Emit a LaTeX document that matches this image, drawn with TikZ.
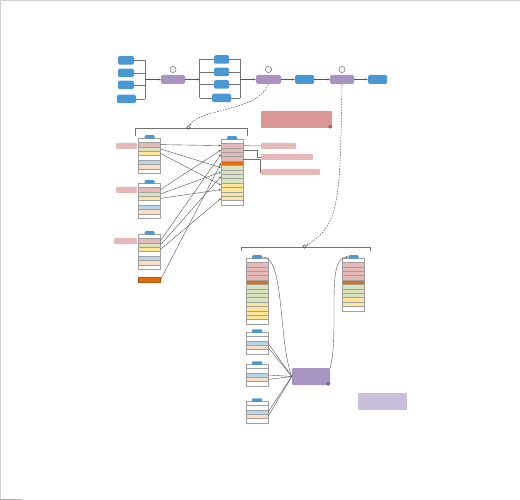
\documentclass[tikz,border=0pt]{standalone}
\usepackage{tikz}
\usetikzlibrary{arrows.meta,calc,positioning}

% Colors
\definecolor{boxblue}{HTML}{4A98D3}
\definecolor{boxpurple}{HTML}{A794C3}
\definecolor{lightpurple}{HTML}{C9BDDC}
\definecolor{bigred}{HTML}{DB9594}
\definecolor{labelpink}{HTML}{E7B8B8}
\definecolor{rowred}{HTML}{E6B9B8}
\definecolor{rowgreen}{HTML}{D7E4BD}
\definecolor{rowyellow}{HTML}{FFE597}
\definecolor{rowblue}{HTML}{B8D8EA}
\definecolor{rowpeach}{HTML}{FBDCC4}
\definecolor{roworange}{HTML}{E46C0A}
\definecolor{cellline}{HTML}{A0A0A0}
\definecolor{linkgray}{HTML}{555555}

% a table: name, x center, top y, row colours
\newcommand{\dbtable}[4]{%
  \foreach \c [count=\i from 0] in {#4}
    \node[cell,fill=\c] (#1-\i) at (#2,{#3+4.4*\i+2.2}) {};
  \node[tab box] (#1-tab) at (#2,{#3-1}) {};
}

\begin{document}
\begin{tikzpicture}[x=1pt,y=-1pt]
  % Styles
  \tikzstyle{blue box}=[fill=boxblue,rounded corners=1.5pt,minimum width=16pt,minimum height=8.5pt,inner sep=0pt]
  \tikzstyle{purple box}=[fill=boxpurple,rounded corners=1.5pt,minimum width=24pt,minimum height=9pt,inner sep=0pt]
  \tikzstyle{cell}=[draw=cellline,line width=0.4pt,minimum width=22pt,minimum height=4.4pt,inner sep=0pt,outer sep=0pt]
  \tikzstyle{tab box}=[fill=boxblue,rounded corners=1pt,minimum width=10pt,minimum height=3.5pt,inner sep=0pt]
  \tikzstyle{pink label}=[fill=labelpink,rounded corners=1pt,minimum height=6pt,inner sep=0pt]
  \tikzstyle{ring}=[circle,draw=gray!80!black,line width=0.5pt,minimum size=6.2pt,inner sep=0pt]
  \tikzstyle{small ring}=[circle,draw=gray!60!black,line width=0.5pt,minimum size=3.5pt,inner sep=0pt]
  \tikzstyle{bracket line}=[draw=gray!90!black,line width=0.5pt]
  \tikzstyle{link}=[draw=linkgray,line width=0.4pt,-{Stealth[length=2.4pt,width=2pt]}]
  \tikzstyle{dash link}=[link,line width=0.5pt,dash pattern=on 1.6pt off 1.2pt]

  \useasboundingbox (0,0) rectangle (520,500);
  \draw[gray!35] (0,500) -- (0,0) -- (520,0);
  \draw[gray!60] (0,499.5) -- (22,499.5);

  % Top flow
  \node[blue box] (a1) at (126,60.5) {};
  \node[blue box] (a2) at (126,73) {};
  \node[blue box] (a3) at (126,85) {};
  \node[blue box,minimum width=19pt] (a4) at (126.5,99) {};
  \coordinate (ja) at (145,79.5);
  \foreach \n in {a1,a2,a3,a4}
    \draw[bracket line] (\n.east) -- (\n.east -| ja);
  \draw[bracket line] (a1.east -| ja) -- (a4.east -| ja);

  \node[purple box] (p1) at (173,79.5) {};
  \node[ring,above=2pt of p1] (r1) {};
  \draw[link] (ja) -- (p1.west);

  \node[blue box,minimum width=15pt] (b1) at (221.5,59.5) {};
  \node[blue box,minimum width=15pt] (b2) at (221.5,72) {};
  \node[blue box,minimum width=15pt] (b3) at (221.5,84.5) {};
  \node[blue box,minimum width=19pt] (b4) at (221.5,98) {};
  \coordinate (jb) at (199.5,79.5);
  \coordinate (jc) at (240,79.5);
  \foreach \n in {b1,b2,b3,b4} {
    \draw[bracket line] (\n.west) -- (\n.west -| jb);
    \draw[bracket line] (\n.east) -- (\n.east -| jc);
  }
  \draw[bracket line] (b1.west -| jb) -- (b4.west -| jb);
  \draw[bracket line] (b1.east -| jc) -- (b4.east -| jc);
  \draw[link] (p1.east) -- (jb);

  \node[purple box,minimum width=25pt] (p2) at (268.5,79.5) {};
  \node[ring,above=2pt of p2] (r2) {};
  \draw[link] (jc) -- (p2.west);
  \node[blue box,minimum width=19pt,minimum height=9pt] (c1) at (304.5,79.5) {};
  \draw[link] (p2) -- (c1);
  \node[purple box] (p3) at (342,79.5) {};
  \node[ring,above=2pt of p3] (r3) {};
  \draw[link] (c1) -- (p3);
  \node[blue box,minimum width=19pt,minimum height=9pt] (c2) at (377.5,79.5) {};
  \draw[link] (p3) -- (c2);

  % Join of the three source tables
  \draw[bracket line] (135,136) -- (135,128) -- (247,128) -- (247,136);
  \node[small ring] (lr) at (188.5,127.5) {};
  \draw[dash link] (p2.south) .. controls (258,112) and (200,108) .. (lr);

  \node[fill=bigred,rounded corners=1pt,minimum width=71pt,minimum height=17pt] (br) at (296.5,119.5) {};
  \node[small ring,minimum size=3pt] at ([xshift=-2pt,yshift=1.5pt]br.south east) {};

  \dbtable{sa}{149.5}{138}{white,rowred,rowgreen,rowyellow,white,rowblue,rowpeach,white}
  \dbtable{sb}{149.5}{183}{white,rowred,rowgreen,rowyellow,white,rowblue,rowpeach,white}
  \dbtable{sc}{149.5}{234}{white,rowred,rowgreen,rowyellow,white,rowblue,rowpeach,white}
  \node[fill=roworange,draw=roworange!80!black,line width=0.3pt,minimum width=22pt,minimum height=4.4pt,inner sep=0pt] (ob) at (149.5,279.5) {};

  \node[pink label,minimum width=21pt] (la) at (126.5,146) {};
  \node[pink label,minimum width=21pt] (lb) at (126.5,190) {};
  \node[pink label,minimum width=23pt] (lc) at (125.5,241) {};

  \dbtable{tg}{232}{139}{white,rowred,rowred,rowred,rowred,roworange,rowgreen,rowgreen,rowgreen,rowgreen,rowyellow,rowyellow,rowyellow,rowyellow,white}

  \draw[link] (sa-1.east) -- (tg-1.west);
  \draw[link] (sa-2.east) -- (tg-6.west);
  \draw[link] (sa-3.east) -- (tg-10.west);
  \draw[link] (sb-1.east) -- (tg-2.west);
  \draw[link] (sb-2.east) -- (tg-7.west);
  \draw[link] (sb-3.east) -- (tg-11.west);
  \draw[link] (sc-1.east) -- (tg-3.west);
  \draw[link] (sc-2.east) -- (tg-8.west);
  \draw[link] (sc-3.east) -- (tg-13.west);
  \draw[link] (ob.east) -- (tg-5.west);

  \node[pink label,minimum width=35pt] (ra) at (278.5,146) {};
  \node[pink label,minimum width=52pt] (rb) at (287,157) {};
  \node[pink label,minimum width=59pt] (rc) at (290.5,172) {};
  \draw[bracket line] (tg-1.east) -- (ra.west);
  \draw[bracket line] (tg-2.east) -- ++(14,0) |- (rb.west);
  \draw[bracket line] (tg-4.east) -- ++(17,0) |- (rc.west);

  % Join of the merged tables
  \draw[bracket line] (241,251) -- (241,247) -- (370,247) -- (370,251);
  \node[small ring] (mr) at (304.5,246.5) {};
  \draw[dash link] (p3.south) .. controls (340,200) and (340,225) .. (mr);

  \dbtable{bt}{257}{258}{white,rowred,rowred,rowred,rowred,roworange,rowgreen,rowgreen,rowgreen,rowgreen,rowyellow,rowyellow,rowyellow,rowyellow,white}
  \dbtable{rt}{353.5}{258}{white,rowred,rowred,rowred,rowred,roworange,rowgreen,rowgreen,rowgreen,rowyellow,rowyellow,white}
  \dbtable{ua}{257}{332}{white,white,rowblue,rowpeach,white}
  \dbtable{ub}{257}{364}{white,white,rowblue,rowpeach,white}
  \dbtable{uc}{257}{401}{white,white,rowblue,rowpeach,white}

  \node[fill=boxpurple,rounded corners=1pt,minimum width=38pt,minimum height=17pt] (pm) at (311,376.5) {};
  \node[small ring,minimum size=3pt] at ([xshift=-2pt,yshift=1.5pt]pm.south east) {};
  \node[fill=lightpurple,rounded corners=1pt,minimum width=49pt,minimum height=17pt] (lp) at (382.5,401.5) {};

  \draw[draw=linkgray,line width=0.4pt] (bt-tab.east) .. controls (285,256) and (278,340) .. (pm.west);
  \draw[link] (pm.north east) .. controls (340,330) and (325,257) .. (rt-tab.west);
  \foreach \t in {ua,ub,uc} {
    \draw[draw=linkgray,line width=0.4pt] (\t-2.east) -- (pm.west);
    \draw[draw=linkgray,line width=0.4pt] (\t-3.east) -- (pm.west);
  }
\end{tikzpicture}
\end{document}
